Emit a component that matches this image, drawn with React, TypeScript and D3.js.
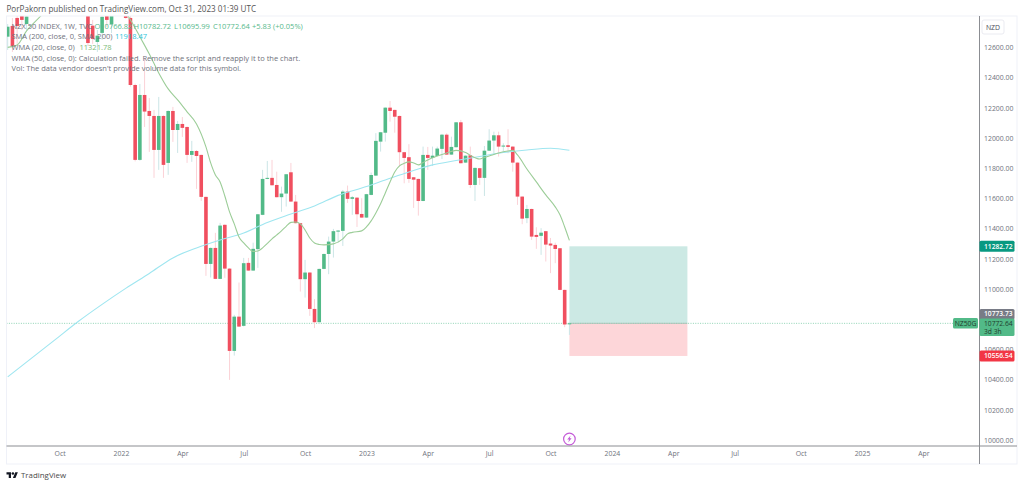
import React, { useEffect, useRef } from 'react';
import * as d3 from 'd3';

// weekly candles, NZX 50 (bars above the pane top are clipped)
const opens = [12671,12742,12795,12821,12755,12840,12900,12940,12980,12960,12990,13040,13020,13050,13030,13000,12970,12880,12744,12636,12696,12848,12755,12830,12880,12834,12795,12351,11855,12285,12179,12146,11921,12146,11835,12179,12053,12093,12073,11888,11914,11888,11610,11166,11272,11067,11425,11135,10590,10817,10756,11173,11122,11264,11491,11729,11736,11689,11608,11632,11773,11579,11436,11065,11109,10868,10780,11133,11232,11314,11380,11385,11645,11597,11605,11497,11473,11623,11751,11976,12035,12201,12186,12146,11906,11873,11740,11729,11583,11888,11868,11881,11928,12022,11890,11939,12104,11837,11886,11689,11800,11736,11916,11983,12018,11943,11952,11943,11837,11612,11469,11530,11358,11352,11383,11301,11292,11270,10994,10766.82];
const highs = [12755,12795,12821,12848,12821,12920,12960,13000,13040,13010,13060,13090,13070,13100,13060,13030,13000,12900,12782,12715,12835,12870,12850,12900,12930,12860,12830,12360,12358,12530,12265,12186,12272,12150,12183,12206,12113,12139,12076,11981,11920,11890,11612,11275,11372,11438,11428,11138,10829,11043,11206,11206,11307,11497,11789,11848,11855,11777,11678,11762,11835,11623,11438,11193,11111,10933,11135,11234,11347,11398,11391,11656,11685,11616,11608,11601,11630,11771,12032,12040,12203,12245,12188,12148,11908,11959,11742,11731,11943,11941,11943,11943,12027,12031,12009,12106,12120,11885,11943,11804,11802,11947,12058,12042,12042,11965,12058,11945,11839,11614,11557,11532,11409,11403,11385,11338,11307,11272,10996,10782.72];
const lows = [12583,12570,12623,12715,12715,12830,12880,12910,12950,12920,12970,13000,12980,13010,12980,12950,12880,12609,12623,12570,12649,12735,12695,12815,12840,12790,12340,11845,11850,12073,11908,11736,11789,11736,11756,11974,11901,12007,11835,11842,11663,11583,11087,11076,11065,11065,11074,10398,10559,10749,10752,11120,11120,11140,11489,11727,11685,11606,11511,11546,11577,11434,10983,10943,10822,10741,10778,11131,11098,11208,11307,11285,11570,11491,11411,11471,11471,11621,11749,11910,11976,12108,12035,11810,11700,11703,11537,11486,11581,11789,11815,11879,11861,11888,11888,11937,11831,11835,11669,11583,11689,11616,11914,11888,11877,11910,11899,11777,11557,11429,11436,11325,11266,11226,11182,11105,11171,10992,10747,10695.99];
const closes = [12737,12603,12742,12782,12805,12900,12940,12980,12960,12990,13040,13020,13050,13030,13000,12970,12900,12629,12656,12678,12803,12782,12821,12880,12860,12795,12351,11855,12285,12175,12146,11921,12146,11822,12179,12053,12093,12067,11888,11914,11881,11610,11166,11272,11067,11420,11135,10590,10817,10751,11171,11122,11266,11495,11729,11736,11687,11608,11632,11760,11579,11436,11065,11109,10868,10780,11133,11232,11314,11383,11387,11645,11597,11608,11495,11473,11628,11755,11981,12038,12201,12179,12141,11906,11868,11729,11724,11583,11888,11868,11883,11930,12022,11890,11941,12104,11833,11883,11689,11802,11736,11916,11983,12018,11943,11950,11941,11837,11612,11466,11530,11347,11345,11373,11294,11288,11265,10994,10765,10772.64];

// moving averages: bar number and value at that bar
const smaBars = [0,5,10,15,20,25,30,35,40,45,50,55,60,65,70,75,80,85,90,95,100,105,110,115,119];
const smaValues = [10418,10541,10663,10786,10898,11004,11103,11206,11272,11325,11371,11441,11497,11550,11620,11669,11722,11775,11822,11851,11878,11904,11921,11932,11918.47];
const wmaBars = [0,2,4,7,10,14,18,22,25,26,27,28,30,32,34,36,38,40,42,43,44,45,46,47,48,49,50,51,52,53,54,55,56,57,58,59,60,61,62,63,64,65,66,67,69,71,72,73,75,76,77,78,79,80,81,82,83,84,85,86,87,88,89,91,93,95,97,98,100,101,102,104,106,107,108,110,112,114,116,117,118,119];
const wmaValues = [12600,12616,12709,12808,12914,13013,13060,12980,12835,12782,12729,12671,12556,12431,12325,12252,12173,12093,11941,11835,11755,11709,11616,11511,11431,11345,11305,11272,11249,11252,11272,11302,11332,11358,11385,11415,11441,11444,11431,11391,11338,11305,11295,11292,11299,11332,11365,11375,11385,11411,11451,11504,11564,11636,11709,11775,11815,11832,11842,11835,11822,11838,11855,11881,11901,11918,11904,11885,11861,11871,11881,11901,11914,11918,11888,11795,11709,11623,11544,11491,11411,11321.78];

// 10800 sits under the last price tags in the original, so it is left out
const priceTicks = [10000,10200,10400,10600,11000,11200,11400,11600,11800,12000,12200,12400,12600];
const timeTickBars = [11,24,37,50,63,76,89,102,115,128,141,154,168,181,194];
const timeTickLabels = ['Oct','2022','Apr','Jul','Oct','2023','Apr','Jul','Oct','2024','Apr','Jul','Oct','2025','Apr'];

// long position tool
const positionBars = [119, 144];
const targetPrice = 11282.72;
const entryPrice = 10772.64;
const stopPrice = 10556.54;
const lastClose = 10772.64;
const lastMid = 10773.73;

const FONT = '"Open Sans", sans-serif';
const UP = '#52ba88';
const DOWN = '#f04f5f';

const App = () => {
  const svgRef = useRef<SVGSVGElement>(null);

  useEffect(() => {
    const svg = d3.select(svgRef.current);
    svg.selectAll('*').remove();
    svg.attr('font-family', FONT);

    const left = 6.5, right = 1017, top = 16, paneBottom = 446, axisBottom = 464, scaleX = 979.5;

    const x = d3.scaleLinear().domain([0, 119]).range([7.7, 569.4]);
    const y = d3.scaleLinear().domain([10000, 12600]).range([440, 47.4]);

    svg.append('clipPath').attr('id', 'pane').append('rect')
      .attr('x', left).attr('y', top).attr('width', scaleX - left).attr('height', paneBottom - top);

    const pane = svg.append('g').attr('clip-path', 'url(#pane)');

    // position tool
    pane.append('rect')
      .attr('x', x(positionBars[0])).attr('width', x(positionBars[1]) - x(positionBars[0]))
      .attr('y', y(targetPrice)).attr('height', y(entryPrice) - y(targetPrice))
      .attr('fill', '#cce9e4');
    pane.append('rect')
      .attr('x', x(positionBars[0])).attr('width', x(positionBars[1]) - x(positionBars[0]))
      .attr('y', y(entryPrice)).attr('height', y(stopPrice) - y(entryPrice))
      .attr('fill', '#fdd6d9');
    pane.append('line')
      .attr('x1', x(positionBars[0])).attr('x2', x(positionBars[1]))
      .attr('y1', y(entryPrice)).attr('y2', y(entryPrice))
      .attr('stroke', '#a9b3b1').attr('stroke-width', 0.8);

    // last price line
    pane.append('line')
      .attr('x1', left).attr('x2', 953)
      .attr('y1', y(lastClose)).attr('y2', y(lastClose))
      .attr('stroke', '#8fd3b4').attr('stroke-width', 1).attr('stroke-dasharray', '1 1.4');

    // candles
    const bars = d3.range(opens.length);
    pane.selectAll('.wick').data(bars).enter().append('line')
      .attr('x1', i => x(i)).attr('x2', i => x(i))
      .attr('y1', i => y(highs[i])).attr('y2', i => y(lows[i]))
      .attr('stroke', i => (closes[i] >= opens[i] ? '#cbe5e6' : '#fbd2d7'))
      .attr('stroke-width', 1);
    pane.selectAll('.body').data(bars).enter().append('rect')
      .attr('x', i => x(i) - 1.8).attr('width', 3.6)
      .attr('y', i => y(Math.max(opens[i], closes[i])))
      .attr('height', i => Math.max(1, Math.abs(y(opens[i]) - y(closes[i]))))
      .attr('fill', i => (closes[i] >= opens[i] ? UP : DOWN));

    // moving averages
    const maLine = d3.line<[number, number]>()
      .x(d => x(d[0])).y(d => y(d[1]))
      .curve(d3.curveMonotoneX);
    pane.append('path')
      .attr('d', maLine(smaBars.map((b, i) => [b, smaValues[i]] as [number, number])))
      .attr('fill', 'none').attr('stroke', '#9fe6f0').attr('stroke-width', 1.1);
    pane.append('path')
      .attr('d', maLine(wmaBars.map((b, i) => [b, wmaValues[i]] as [number, number])))
      .attr('fill', 'none').attr('stroke', '#9ccd98').attr('stroke-width', 1.1);

    // earnings/dividend style marker
    const mark = svg.append('g').attr('transform', `translate(${x(119)},439)`);
    mark.append('circle').attr('r', 5.8).attr('fill', '#fff').attr('stroke', '#c45bd8').attr('stroke-width', 1.2);
    mark.append('path').attr('d', 'M1.2,-3.6 L-2.2,0.6 L-0.3,0.6 L-1.2,3.6 L2.2,-0.8 L0.3,-0.8 Z').attr('fill', '#c45bd8');

    // frame
    svg.append('rect')
      .attr('x', left).attr('y', top).attr('width', right - left).attr('height', axisBottom - top)
      .attr('fill', 'none').attr('stroke', '#eff1f8').attr('stroke-width', 1);

    // axes
    const priceAxis = d3.axisRight(y).tickValues(priceTicks).tickFormat(d3.format('.2f') as any).tickSize(0).tickPadding(4.5);
    const gPrice = svg.append('g').attr('transform', `translate(${scaleX},0)`).call(priceAxis);
    gPrice.select('.domain').remove();
    gPrice.selectAll('text').attr('font-family', FONT).attr('font-size', 6.9).attr('fill', '#6f727c');

    const timeAxis = d3.axisBottom(x).tickValues(timeTickBars).tickFormat((_, i) => timeTickLabels[i]).tickSize(0).tickPadding(5);
    const gTime = svg.append('g').attr('transform', `translate(0,${paneBottom})`).call(timeAxis);
    gTime.select('.domain').remove();
    gTime.selectAll('text').attr('font-family', FONT).attr('font-size', 6.9).attr('fill', '#6f727c');

    svg.append('line').attr('x1', left).attr('x2', right).attr('y1', paneBottom).attr('y2', paneBottom)
      .attr('stroke', '#8b8d92').attr('stroke-width', 1);
    svg.append('line').attr('x1', scaleX).attr('x2', scaleX).attr('y1', top).attr('y2', axisBottom)
      .attr('stroke', '#8b8d92').attr('stroke-width', 1);

    // currency button
    svg.append('rect').attr('x', 982).attr('y', 20).attr('width', 22).attr('height', 14).attr('rx', 2)
      .attr('fill', '#fff').attr('stroke', '#e4e6ee').attr('stroke-width', 0.8);
    svg.append('text').attr('x', 993).attr('y', 29.5).attr('text-anchor', 'middle')
      .attr('font-size', 6.9).attr('fill', '#4a4d57').text('NZD');

    // price labels on the scale
    const priceTag = (price: number, fill: string, color: string, h: number) => {
      svg.append('rect').attr('x', scaleX).attr('y', y(price) - h / 2).attr('width', 35).attr('height', h)
        .attr('rx', 1.5).attr('fill', fill);
      svg.append('text').attr('x', 984).attr('y', y(price) + 2.5)
        .attr('font-size', 6.7).attr('font-weight', 600).attr('fill', color).text(d3.format('.2f')(price));
    };
    priceTag(targetPrice, '#089981', '#fff', 11);
    priceTag(stopPrice, '#f23645', '#fff', 11);
    svg.append('rect').attr('x', scaleX).attr('y', 309).attr('width', 35).attr('height', 10.5).attr('rx', 1.5).attr('fill', '#787b86');
    svg.append('text').attr('x', 984).attr('y', 316.4).attr('font-size', 6.7).attr('font-weight', 600).attr('fill', '#fff').text(d3.format('.2f')(lastMid));
    svg.append('rect').attr('x', scaleX).attr('y', 318.5).attr('width', 35).attr('height', 17.5).attr('rx', 1.5).attr('fill', UP);
    svg.append('text').attr('x', 984).attr('y', 325.8).attr('font-size', 6.7).attr('fill', '#1f3a2e').text(d3.format('.2f')(lastClose));
    svg.append('text').attr('x', 984).attr('y', 334.2).attr('font-size', 6.7).attr('fill', '#1f3a2e').text('3d 3h');
    svg.append('rect').attr('x', 953).attr('y', 318).attr('width', 25).attr('height', 10.5).attr('rx', 1.5).attr('fill', UP);
    svg.append('text').attr('x', 965.5).attr('y', 326).attr('text-anchor', 'middle').attr('font-size', 6.8).attr('fill', '#1f3a2e').text('NZ50G');

    // legend
    const legend = (px: number, py: number, s: string, color: string) =>
      svg.append('text').attr('x', px).attr('y', py).attr('font-size', 7.5).attr('fill', color).text(s);
    const grey = '#6f727c';
    const ohlcGreen = '#57b98c';
    legend(11.5, 28.6, 'NZX 50 INDEX, 1W, TVC', grey);
    legend(94.5, 28.6, 'O10766.82', ohlcGreen);
    legend(133.5, 28.6, 'H10782.72', ohlcGreen);
    legend(174, 28.6, 'L10695.99', ohlcGreen);
    legend(213, 28.6, 'C10772.64', ohlcGreen);
    legend(252, 28.6, '+5.83 (+0.05%)', ohlcGreen);
    legend(11.5, 39.2, 'SMA (200, close, 0, SMA, 200)', grey);
    legend(115, 39.2, '11918.47', '#2cc5dc');
    legend(11.5, 49.9, 'WMA (20, close, 0)', grey);
    legend(79.5, 49.9, '11321.78', '#7cbb78');
    legend(11.5, 60.5, 'WMA (50, close, 0): Calculation failed. Remove the script and reapply it to the chart.', grey);
    legend(11.5, 71.2, "Vol: The data vendor doesn't provide volume data for this symbol.", grey);

    // publish line and logo
    svg.append('text').attr('x', 6.5).attr('y', 11.8).attr('font-size', 8.1).attr('fill', '#555').text('PorPakorn published on TradingView.com, Oct 31, 2023 01:39 UTC');
    svg.append('path').attr('transform', 'translate(6.5,471) scale(0.32)')
      .attr('d', 'M14 22H7V11H0V4h14v18zM28 22h-8l7.5-18h8L28 22z').attr('fill', '#131722');
    svg.append('circle').attr('cx', 6.5 + 20 * 0.32).attr('cy', 471 + 8 * 0.32).attr('r', 1.3).attr('fill', '#131722');
    svg.append('text').attr('x', 21).attr('y', 478).attr('font-size', 7.9).attr('fill', '#4a4a4a').text('TradingView');
  }, []);

  return <svg ref={svgRef} width={1024} height={486} style={{ position: 'absolute', left: 0, top: 0, background: '#fff' }}></svg>;
};

export default App;
